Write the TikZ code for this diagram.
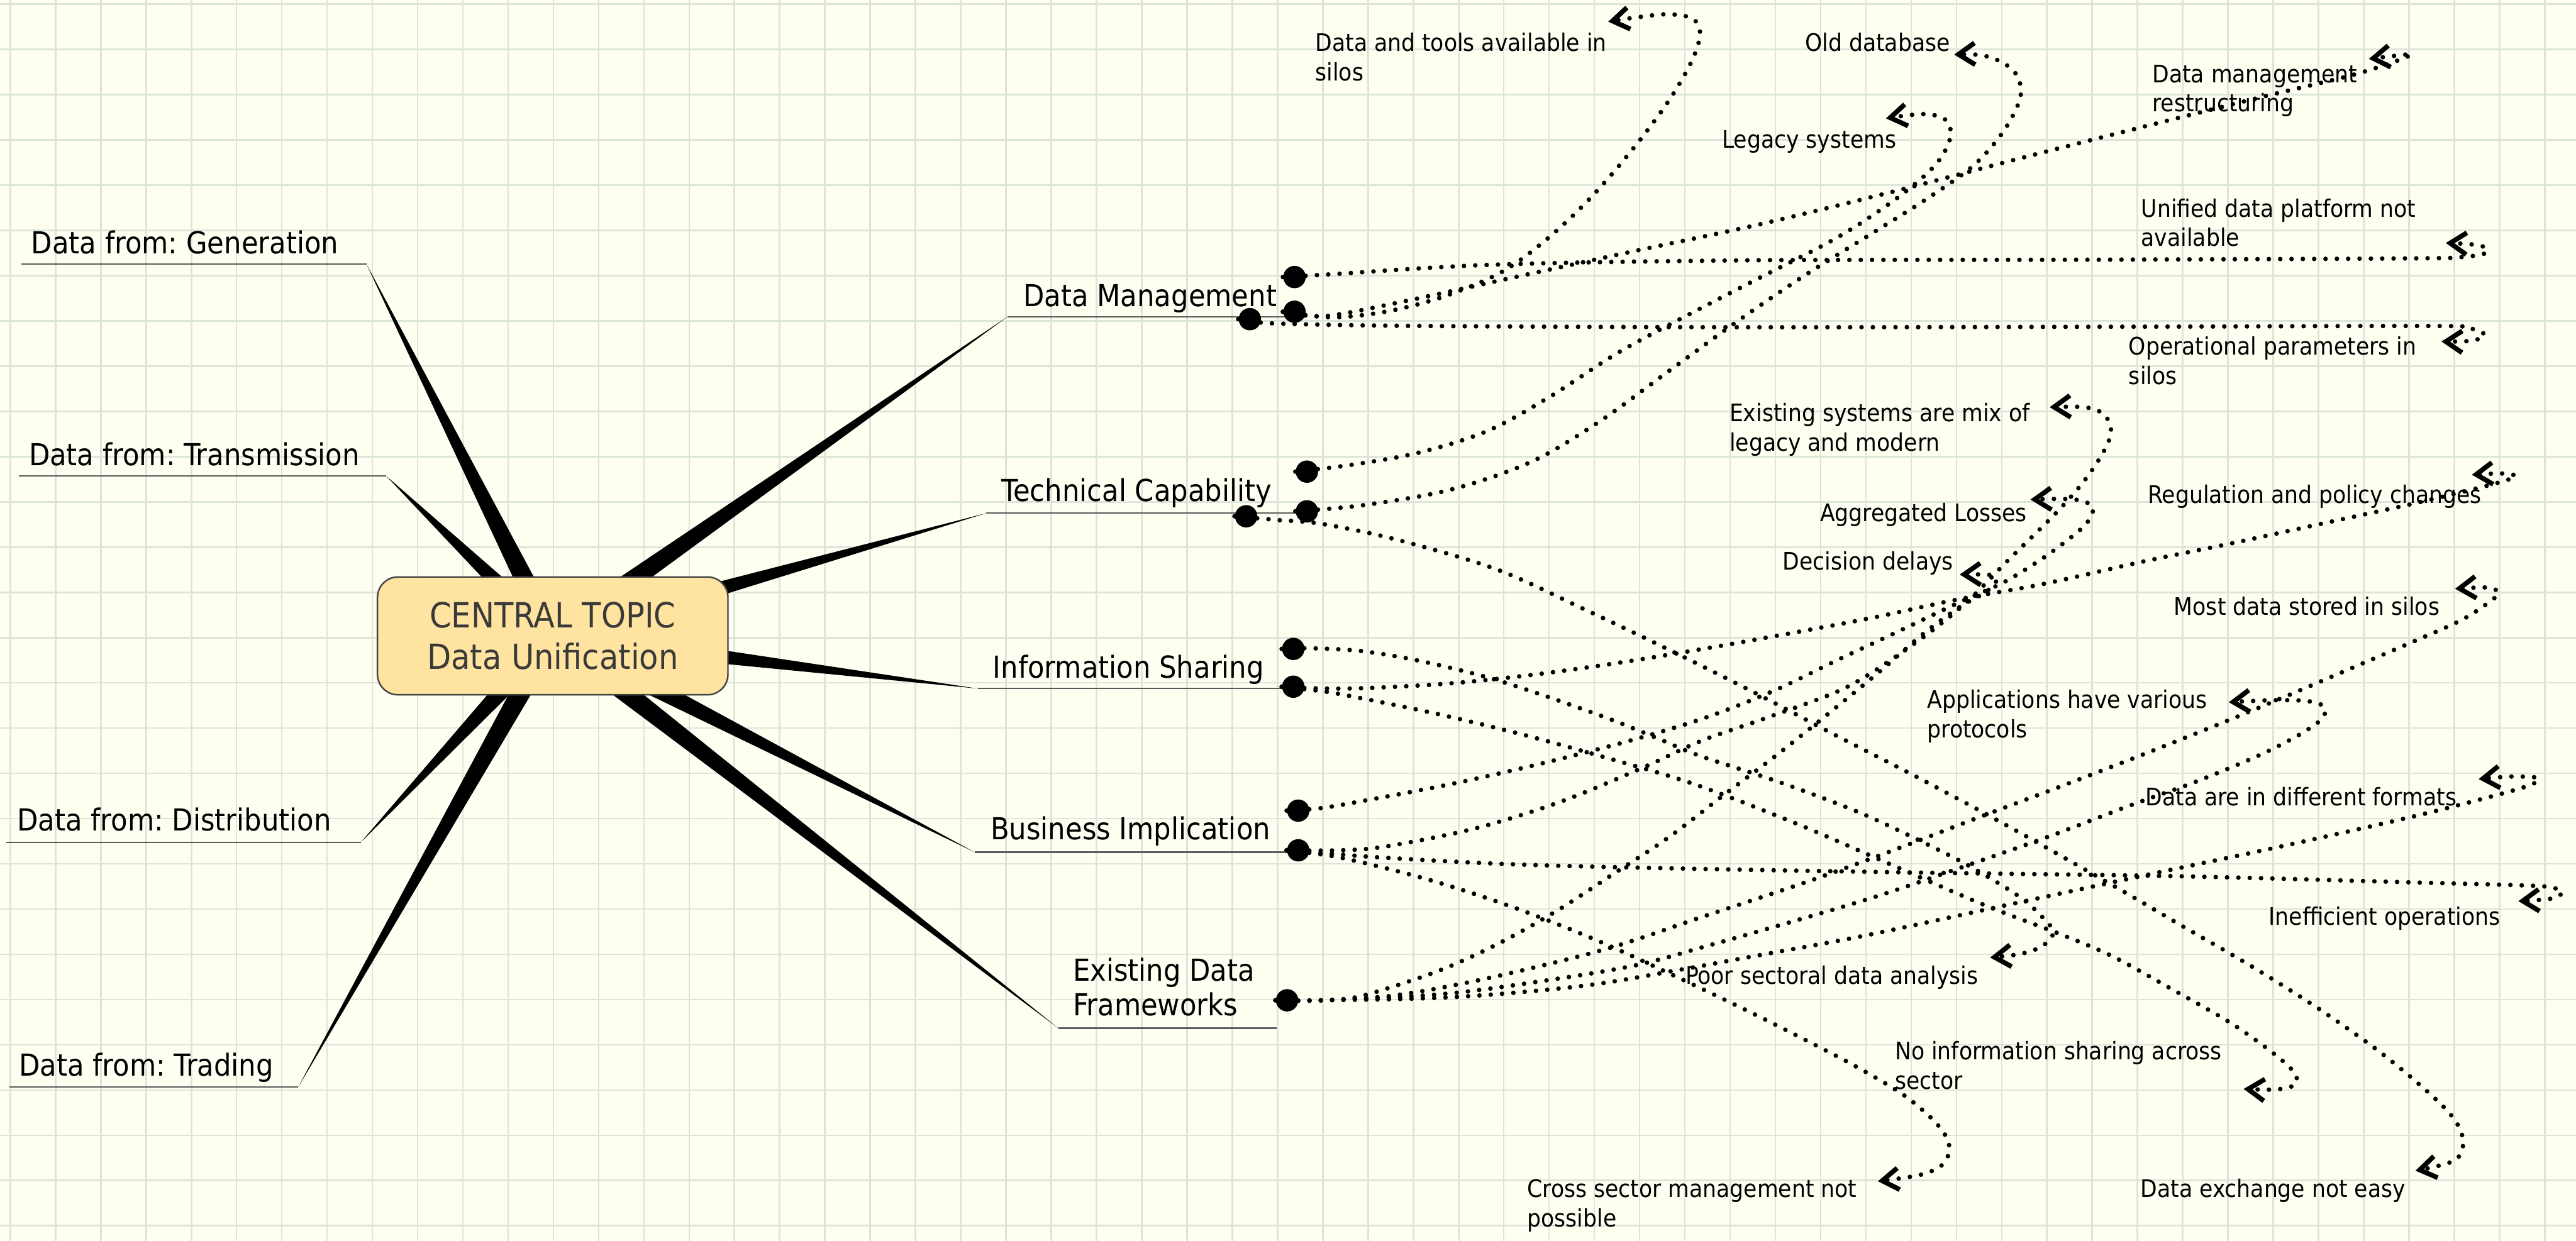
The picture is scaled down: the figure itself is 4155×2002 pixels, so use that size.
\documentclass[tikz,border=0pt]{standalone}
\usepackage{fontspec}
\setmainfont{DejaVu Sans Condensed}
\usetikzlibrary{arrows.meta,calc}
\definecolor{paper}{RGB}{255,255,241}
\definecolor{gridc}{RGB}{220,229,217}
\definecolor{boxfill}{RGB}{255,227,160}
\definecolor{boxline}{RGB}{68,68,68}
\definecolor{centxt}{RGB}{58,58,58}
\definecolor{ulc}{RGB}{90,90,90}
\frenchspacing

\begin{document}
\begin{tikzpicture}[x=0.01cm,y=-0.01cm,
  topic/.style={anchor=base west, inner sep=0, font=\fontsize{13.9pt}{15.9pt}\selectfont, align=left},
  sub/.style={anchor=base west, inner sep=0, font=\fontsize{11.1pt}{13.5pt}\selectfont, align=left},
  uline/.style={draw=ulc, line width=0.6pt},
  bigdot/.style={circle, fill=black, inner sep=0, minimum size=0.36cm},
  rel/.style={line width=2.1pt, line cap=round, dash pattern=on 0pt off 5.2pt,
    -{Straight Barb[length=7.5pt,width=10pt,line width=2.2pt]}},
  relplot/.style={smooth, tension=0.55},
]
\useasboundingbox (0,0) rectangle (4155,2002);
% paper and grid
\fill[paper] (0,0) rectangle (4155,2002);
\foreach \i in {0,...,56} \draw[gridc, line width=0.75pt] ({16.6+73*\i},0) -- ({16.6+73*\i},2002);
\foreach \j in {0,...,27} \draw[gridc, line width=0.75pt] (0,{6.8+73*\j}) -- (4155,{6.8+73*\j});

% branch ends
\coordinate (ctr) at (891.5,1026);
\coordinate (wGen) at (591,426);
\coordinate (wTra) at (623,768);
\coordinate (wDis) at (582,1359);
\coordinate (wTrd) at (481,1754);
\coordinate (wDM) at (1625,511);
\coordinate (wTC) at (1591,828);
\coordinate (wIS) at (1577,1111);
\coordinate (wBI) at (1572,1375);
\coordinate (wEDF) at (1707,1659);

% tapered branches
\foreach \e in {wGen,wTra,wDis,wTrd,wDM,wTC,wIS,wBI,wEDF}
  \fill[black] ($(ctr)!0.18cm!90:(\e)$) -- (\e) -- ($(ctr)!0.18cm!-90:(\e)$) -- cycle;

% central topic
\node[draw=boxline, fill=boxfill, rounded corners=0.33cm, line width=0.7pt,
  minimum width=5.65cm, minimum height=1.9cm, inner sep=0, align=center,
  font=\fontsize{15.9pt}{18.8pt}\selectfont, text=centxt] (central) at (ctr)
  {CENTRAL TOPIC\\Data Unification};

% underlines
\draw[uline] (34,426) -- (wGen);
\draw[uline] (30,768) -- (wTra);
\draw[uline] (10,1359) -- (wDis);
\draw[uline] (15,1754) -- (wTrd);
\draw[uline] (wDM) -- (2076,511);
\draw[uline] (wTC) -- (2094,828);
\draw[uline] (wIS) -- (2069,1111);
\draw[uline] (wBI) -- (2076,1375);
\draw[uline] (wEDF) -- (2059,1659);

% topic labels (multi-line nodes sit on the baseline of their last line)
\node[topic] (lGen) at (50,409) {Data from: Generation};
\node[topic] (lTra) at (46,751) {Data from: Transmission};
\node[topic] (lDis) at (27,1341) {Data from: Distribution};
\node[topic] (lTrd) at (30,1736) {Data from: Trading};
\node[topic] (tDM) at (1650,494) {Data Management};
\node[topic] (tTC) at (1615,809) {Technical Capability};
\node[topic] (tIS) at (1601,1094) {Information Sharing};
\node[topic] (tBI) at (1597,1355) {Business Implication};
\node[topic] (tEDF) at (1730,1639) {Existing Data\\Frameworks};

% sub-topic labels
\node[sub] (sTools) at (2121,130.5) {Data and tools available in\\silos};
\node[sub] (sOld) at (2911,83) {Old database};
\node[sub] (sLegacy) at (2777,239) {Legacy systems};
\node[sub] (sRestr) at (3471,180.5) {Data management\\restructuring};
\node[sub] (sUnified) at (3453,397.5) {Unified data platform not\\available};
\node[sub] (sOper) at (3433,620.5) {Operational parameters in\\silos};
\node[sub] (sExist) at (2789,727.5) {Existing systems are mix of\\legacy and modern};
\node[sub] (sAgg) at (2935,841) {Aggregated Losses};
\node[sub] (sDec) at (2875,920) {Decision delays};
\node[sub] (sReg) at (3464,812) {Regulation and policy changes};
\node[sub] (sMost) at (3506,993) {Most data stored in silos};
\node[sub] (sApps) at (3108,1190.5) {Applications have various\\protocols};
\node[sub] (sFormats) at (3460,1300) {Data are in different formats};
\node[sub] (sIneff) at (3659,1493) {Inefficient operations};
\node[sub] (sPoor) at (2718,1588) {Poor sectoral data analysis};
\node[sub] (sNoInfo) at (3056,1757.5) {No information sharing across\\sector};
\node[sub] (sCross) at (2463,1979.5) {Cross sector management not\\possible};
\node[sub] (sExch) at (3452,1932) {Data exchange not easy};

% relationship start markers
\node[bigdot] (dA1) at (2016,515) {};
\node[bigdot] (dA2) at (2088,447) {};
\node[bigdot] (dA3) at (2088,503) {};
\node[bigdot] (dB1) at (2010,833) {};
\node[bigdot] (dB2) at (2108,761) {};
\node[bigdot] (dB3) at (2108,825) {};
\node[bigdot] (dC2) at (2086,1047) {};
\node[bigdot] (dC3) at (2086,1108) {};
\node[bigdot] (dD2) at (2094,1308) {};
\node[bigdot] (dD3) at (2094,1372) {};
\node[bigdot] (dE1) at (2076,1614) {};

% arrow targets
\coordinate (eTools) at (2594,35);
\coordinate (eOld) at (3152,88);
\coordinate (eLegacy) at (3042,191);
\coordinate (eRestr) at (3821,95);
\coordinate (eUnified) at (3945,392);
\coordinate (eOper) at (3938,551);
\coordinate (eExist) at (3306,657);
\coordinate (eAgg) at (3275,806);
\coordinate (eDec) at (3161,927);
\coordinate (eReg) at (3987,766);
\coordinate (eMost) at (3960,950);
\coordinate (eApps) at (3595,1133);
\coordinate (eFormats) at (3998,1257);
\coordinate (eIneff) at (4062,1454);
\coordinate (ePoor) at (3210,1545);
\coordinate (eNoInfo) at (3619,1757);
\coordinate (eCross) at (3029,1906);
\coordinate (eExch) at (3896,1889);

% Data Management relations
\draw[rel] plot[relplot] coordinates {(dA2.west) (2140,443) (2412,427) (2825,420) (3374,419) (3880,417) (3968,415) (4010,408) (4000,396) (eUnified)};
\draw[rel] plot[relplot] coordinates {(dA1.west) (2060,522) (2300,526) (2825,528) (3500,527) (3930,526) (3985,530) (4008,541) (3985,550) (eOper)};
\draw[rel] plot[relplot] coordinates {(dA3.west) (2137,510) (2261,487) (2426,451) (2632,406) (2838,362) (3058,308) (3264,254) (3471,201) (3642,158) (3787,123) (3855,102) (3890,88) (3872,89) (eRestr)};
\draw[rel] plot[relplot] coordinates {(dA3.west) (2150,512) (2240,502) (2330,478) (2420,440) (2490,390) (2560,325) (2630,245) (2690,165) (2728,100) (2742,55) (2730,30) (2690,23) (2640,28) (eTools)};

% Technical Capability relations
\draw[rel] plot[relplot] coordinates {(dB3.west) (2200,815) (2340,790) (2470,745) (2580,680) (2690,600) (2800,520) (2910,445) (3017,378) (3106,322) (3182,268) (3230,214) (3258,160) (3255,125) (3232,102) (3196,89) (eOld)};
\draw[rel] plot[relplot] coordinates {(dB2.west) (2180,750) (2290,730) (2400,695) (2500,640) (2605,572) (2700,520) (2825,455) (2962,384) (3058,321) (3120,268) (3145,225) (3140,195) (3105,184) (eLegacy)};
\draw[rel] plot[relplot] coordinates {(dB1.west) (2060,839) (2130,845) (2250,870) (2412,918) (2549,980) (2687,1046) (2825,1115) (2962,1187) (3100,1258) (3237,1332) (3412,1431) (3523,1496) (3633,1560) (3739,1627) (3842,1700) (3926,1771) (3962,1811) (3973,1845) (3958,1873) (eExch)};

% Information Sharing relations
\draw[rel] plot[relplot] coordinates {(dC3.west) (2136,1111) (2209,1110) (2335,1103) (2462,1090) (2587,1073) (2712,1053) (2854,1028) (3014,998) (3154,968) (3297,942) (3457,906) (3598,877) (3740,846) (3882,815) (3987,790) (4039,776) (4058,768) (4035,764) (eReg)};
\draw[rel] plot[relplot] coordinates {(dC3.west) (2130,1115) (2172,1122) (2314,1151) (2455,1185) (2592,1223) (2732,1265) (2900,1330) (3050,1395) (3200,1460) (3330,1510) (3409,1544) (3503,1596) (3597,1650) (3665,1698) (3700,1730) (3702,1750) (3670,1758) (eNoInfo)};
\draw[rel] plot[relplot] coordinates {(dC2.west) (2117,1046) (2191,1050) (2263,1061) (2333,1076) (2403,1094) (2472,1116) (2541,1140) (2609,1165) (2675,1192) (2743,1220) (2873,1263) (3006,1314) (3136,1376) (3200,1411) (3263,1451) (3300,1486) (3312,1505) (3295,1526) (3260,1539) (ePoor)};

% Business Implication relations
\draw[rel] plot[relplot] coordinates {(dD3.west) (2160,1372) (2234,1366) (2378,1337) (2516,1294) (2649,1239) (2745,1195) (2850,1158) (2976,1110) (3077,1046) (3165,978) (3240,903) (3316,828) (3364,773) (3395,725) (3405,694) (3393,668) (3362,657) (eExist)};
\draw[rel] plot[relplot] coordinates {(dD2.west) (2130,1304) (2200,1292) (2341,1265) (2482,1233) (2622,1197) (2745,1160) (2860,1115) (2970,1062) (3070,1015) (3160,972) (3231,940) (3290,904) (3334,872) (3365,845) (3376,820) (3358,808) (3325,805) (eAgg)};
\draw[rel] plot[relplot] coordinates {(dD3.west) (2163,1384) (2303,1419) (2441,1464) (2575,1517) (2706,1577) (2839,1641) (2966,1706) (3029,1741) (3075,1770) (3117,1806) (3139,1834) (3144,1858) (3131,1881) (3096,1896) (eCross)};
\draw[rel] plot[relplot] coordinates {(dD3.west) (2130,1376) (2234,1384) (2451,1395) (2742,1402) (3100,1408) (3520,1414) (3900,1424) (4081,1429) (4120,1433) (4133,1440) (4115,1450) (eIneff)};

% Existing Data Frameworks relations
\draw[rel] plot[relplot] coordinates {(dE1.west) (2130,1614) (2250,1606) (2397,1579) (2588,1532) (2744,1480) (2914,1423) (3051,1373) (3186,1321) (3321,1270) (3455,1218) (3590,1164) (3700,1118) (3800,1075) (3900,1032) (3971,1000) (4017,970) (4030,956) (4012,948) (eMost)};
\draw[rel] plot[relplot] coordinates {(dE1.west) (2130,1614) (2326,1604) (2487,1583) (2636,1558) (2751,1527) (2891,1487) (3031,1445) (3168,1398) (3304,1350) (3440,1298) (3540,1262) (3641,1220) (3706,1187) (3745,1160) (3748,1140) (3720,1131) (3660,1130) (eApps)};
\draw[rel] plot[relplot] coordinates {(dE1.west) (2130,1614) (2342,1609) (2551,1591) (2708,1565) (2828,1543) (3006,1510) (3220,1464) (3466,1411) (3678,1366) (3890,1318) (4030,1282) (4085,1265) (4092,1255) (4050,1253) (eFormats)};
\draw[rel] plot[relplot] coordinates {(dE1.west) (2140,1614) (2200,1606) (2319,1567) (2418,1522) (2512,1469) (2604,1409) (2693,1350) (2780,1283) (2866,1218) (2951,1150) (3030,1085) (3103,1022) (3160,980) (3200,957) (3219,940) (3212,928) (eDec)};
\end{tikzpicture}
\end{document}
